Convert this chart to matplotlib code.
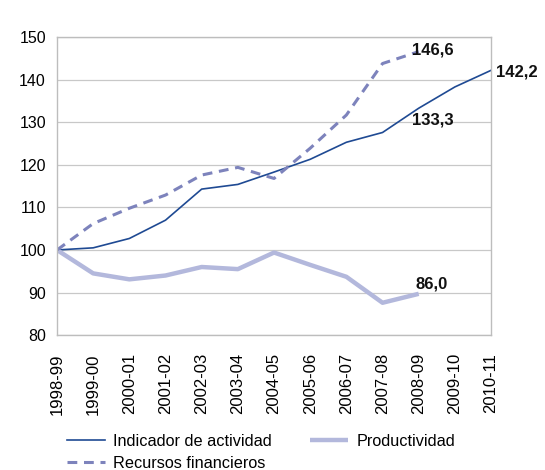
import matplotlib
matplotlib.use("Agg")
import matplotlib.pyplot as plt

plt.rcParams['font.family'] = ['Liberation Sans', 'DejaVu Sans']

years = ["1998-99", "1999-00", "2000-01", "2001-02", "2002-03", "2003-04", "2004-05",
         "2005-06", "2006-07", "2007-08", "2008-09", "2009-10", "2010-11"]
indicador = [100, 100.5, 102.7, 107.0, 114.3, 115.4, 118.3, 121.3, 125.3, 127.6, 133.3, 138.3, 142.2]
recursos = [100, 106.2, 109.8, 112.9, 117.6, 119.4, 116.8, 123.9, 131.7, 143.8, 146.6]
productividad = [100, 94.5, 93.1, 94.0, 96.0, 95.5, 99.4, 96.5, 93.7, 87.6, 89.7]

fig = plt.figure(figsize=(5.45, 4.7), dpi=100)
ax = fig.add_axes([0.1046, 0.287, 0.7964, 0.634])

x = list(range(len(years)))
l1, = ax.plot(x, indicador, color='#1F4A93', lw=1.2, label='Indicador de actividad')
l3, = ax.plot(x[:len(productividad)], productividad, color='#B3B8DC', lw=3.2,
              label='Productividad', solid_capstyle='butt')
l2, = ax.plot(x[:len(recursos)], recursos, color='#7D83BC', lw=2.2, ls=(0, (3.2, 2.2)),
              label='Recursos financieros')

ax.set_xlim(0, len(years) - 1)
ax.set_ylim(80, 150)
ax.set_yticks(range(80, 151, 10))
ax.set_xticks(x)
ax.set_xticklabels(years, rotation=90, fontsize=12)
ax.tick_params(axis='y', labelsize=11.5, length=0, pad=8)
ax.tick_params(axis='x', length=0, pad=13)
ax.grid(axis='y', color='#C8C8C8', lw=0.9)
ax.set_axisbelow(True)
for s in ax.spines.values():
    s.set_color('#BDBDBD')
    s.set_linewidth(1.0)

kw = dict(fontsize=12, fontweight='bold', color='#111111')
ax.text(10.4, 147.0, '146,6', ha='center', va='center', **kw)
ax.text(12.15, 141.8, '142,2', ha='left', va='center', clip_on=False, **kw)
ax.text(10.4, 130.6, '133,3', ha='center', va='center', **kw)
ax.text(10.35, 92.0, '86,0', ha='center', va='center', **kw)

fig.legend(handles=[l1, l2, l3], labels=['Indicador de actividad', 'Recursos financieros', 'Productividad'],
           ncol=2, loc='upper left', bbox_to_anchor=(0.123, 0.077), frameon=False,
           fontsize=11.7, handlelength=2.35, columnspacing=2.35, labelspacing=0.45,
           borderaxespad=0, borderpad=0, handletextpad=0.5)

fig.savefig('out.png', dpi=100)
